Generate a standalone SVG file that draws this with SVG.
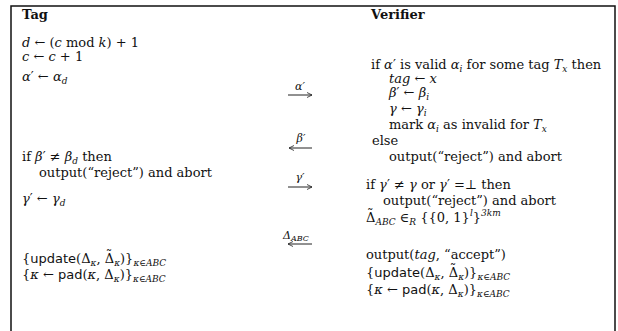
<svg xmlns="http://www.w3.org/2000/svg" width="618" height="331" viewBox="0 0 618 331">
<style>
text{font-family:"DejaVu Serif","Liberation Serif",serif;font-size:13px;fill:#111}
.b{font-weight:bold}
.i{font-style:italic}
.s{font-family:"DejaVu Sans","Liberation Sans",sans-serif;font-style:normal}
.sub{font-size:9px;font-style:italic}
.lbl{font-size:11px;font-style:italic}
.conn line{stroke:#222;stroke-width:1}
</style>
<defs>
<marker id="ah" markerWidth="6" markerHeight="6" refX="5" refY="3" orient="auto" markerUnits="userSpaceOnUse"><path d="M0,0.5 L5,3 L0,5.5" fill="none" stroke="#222" stroke-width="0.8"/></marker>
</defs>
<g id="frame"><path d="M11,331 V6 H615 V331" fill="none" stroke="#111" stroke-width="1.5"/></g>

<g id="tag">
<text x="22" y="19" class="b">Tag</text>
<text x="22" y="47"><tspan class="i">d</tspan> ← (<tspan class="i">c</tspan> mod <tspan class="i">k</tspan>) + 1</text>
<text x="22" y="61"><tspan class="i">c</tspan> ← <tspan class="i">c</tspan> + 1</text>
<text x="22" y="81"><tspan class="i">α</tspan>′ ← <tspan class="i">α</tspan><tspan class="sub" dy="3">d</tspan></text>
<text x="22" y="161">if <tspan class="i">β</tspan>′ ≠ <tspan class="i">β</tspan><tspan class="sub" dy="3">d</tspan><tspan dy="-3"> then</tspan></text>
<text x="39" y="177">output(“reject”) and abort</text>
<text x="22" y="203"><tspan class="i">γ</tspan>′ ← <tspan class="i">γ</tspan><tspan class="sub" dy="3">d</tspan></text>
<text x="22" y="263">{<tspan class="s">update</tspan>(Δ<tspan class="sub" dy="3">κ</tspan><tspan dy="-3">, Δ</tspan><tspan dx="-8.3" dy="-4">˜</tspan><tspan class="sub" dx="1.8" dy="7">κ</tspan><tspan dy="-3">)}</tspan><tspan class="sub" dy="3">κ∈ABC</tspan></text>
<text x="22" y="279">{<tspan class="i">κ</tspan> ← <tspan class="s">pad</tspan>(<tspan class="i">κ</tspan>, Δ<tspan class="sub" dy="3">κ</tspan><tspan dy="-3">)}</tspan><tspan class="sub" dy="3">κ∈ABC</tspan></text>
</g>

<g id="verifier">
<text x="371" y="19" class="b">Verifier</text>
<text x="371" y="69">if <tspan class="i">α</tspan>′ is valid <tspan class="i">α</tspan><tspan class="sub" dy="3">i</tspan><tspan dy="-3"> for some tag </tspan><tspan class="i">T</tspan><tspan class="sub" dy="3">x</tspan><tspan dy="-3"> then</tspan></text>
<text x="389" y="83"><tspan class="i">tag</tspan> ← <tspan class="i">x</tspan></text>
<text x="389" y="97"><tspan class="i">β</tspan>′ ← <tspan class="i">β</tspan><tspan class="sub" dy="3">i</tspan></text>
<text x="389" y="113"><tspan class="i">γ</tspan> ← <tspan class="i">γ</tspan><tspan class="sub" dy="3">i</tspan></text>
<text x="389" y="129">mark <tspan class="i">α</tspan><tspan class="sub" dy="3">i</tspan><tspan dy="-3"> as invalid for </tspan><tspan class="i">T</tspan><tspan class="sub" dy="3">x</tspan></text>
<text x="372" y="145">else</text>
<text x="389" y="161">output(“reject”) and abort</text>
<text x="366" y="189">if <tspan class="i">γ</tspan>′ ≠ <tspan class="i">γ</tspan> or <tspan class="i">γ</tspan>′ =⊥ then</text>
<text x="383" y="205">output(“reject”) and abort</text>
<text x="366" y="222">Δ<tspan dx="-8.3" dy="-4">˜</tspan><tspan class="sub" dx="1.8" dy="7">ABC</tspan><tspan dy="-3"> ∈</tspan><tspan class="sub" dy="3">R</tspan><tspan dy="-3"> {{0, 1}</tspan><tspan class="sub" dy="-6">l</tspan><tspan dy="6">}</tspan><tspan class="sub" dy="-6">3km</tspan></text>
<text x="366" y="259">output(<tspan class="i">tag</tspan>, “accept”)</text>
<text x="366" y="277">{<tspan class="s">update</tspan>(Δ<tspan class="sub" dy="3">κ</tspan><tspan dy="-3">, Δ</tspan><tspan dx="-8.3" dy="-4">˜</tspan><tspan class="sub" dx="1.8" dy="7">κ</tspan><tspan dy="-3">)}</tspan><tspan class="sub" dy="3">κ∈ABC</tspan></text>
<text x="366" y="294">{<tspan class="i">κ</tspan> ← <tspan class="s">pad</tspan>(<tspan class="i">κ</tspan>, Δ<tspan class="sub" dy="3">κ</tspan><tspan dy="-3">)}</tspan><tspan class="sub" dy="3">κ∈ABC</tspan></text>
</g>

<g id="connectors" class="conn">
<line x1="288" y1="95" x2="312" y2="95" marker-end="url(#ah)"/>
<text x="300" y="90" class="lbl" text-anchor="middle">α′</text>
<line x1="312" y1="148" x2="289" y2="148" marker-end="url(#ah)"/>
<text x="301" y="142" class="lbl" text-anchor="middle">β′</text>
<line x1="288" y1="187" x2="312" y2="187" marker-end="url(#ah)"/>
<text x="300" y="181" class="lbl" text-anchor="middle">γ′</text>
<line x1="312" y1="244" x2="288" y2="244" marker-end="url(#ah)"/>
<text x="283" y="239" class="lbl">Δ<tspan font-size="8" dy="2">ABC</tspan></text>
</g>
</svg>
